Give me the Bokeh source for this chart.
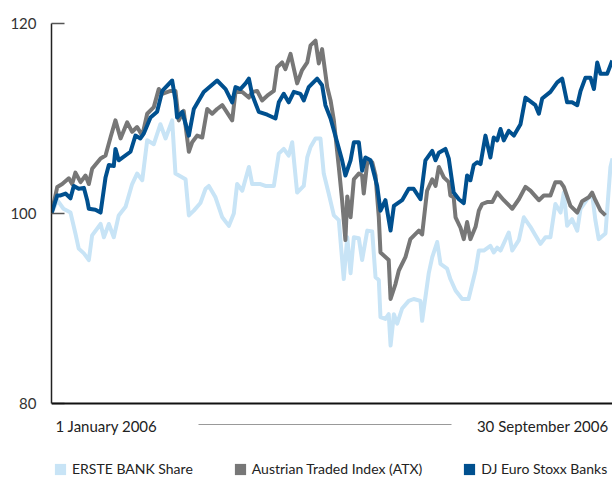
from bokeh.plotting import figure
from bokeh.models import (Range1d, FixedTicker, Label, BoxAnnotation, Legend, LegendItem, Span)
from bokeh.embed import file_html
from bokeh.resources import INLINE

# ---- data (index, 1 January 2006 = 100), x = calendar day since 1 Jan 2006 ----
erste_days = [0, 2.8, 5.8, 9.2, 11.6, 13.2, 15.7, 18.1, 19.7, 23.8, 25.4, 27.8, 30.2, 32.6, 35.9,
              39.1, 41.5, 44.0, 46.4, 49.6, 52.8, 55.3, 58.5, 60.1, 65.0, 66.6, 69.0, 72.2, 74.7,
              76.3, 79.5, 82.8, 86.0, 88.4, 90.0, 92.5, 95.7, 97.3, 101.3, 103.7, 107.8, 110.2,
              112.6, 115.0, 116.7, 119.1, 122.3, 124.0, 125.6, 128.0, 130.4, 132.0, 134.4, 136.9,
              139.3, 141.7, 143.4, 145.0, 146.6, 149.0, 150.6, 153.1, 155.5, 157.1, 158.7, 159.5,
              161.9, 163.5, 164.4, 166.0, 167.6, 170.0, 173.2, 175.6, 178.9, 179.7, 182.9, 184.6,
              187.0, 188.6, 191.8, 193.4, 195.9, 199.1, 202.2, 205.6, 207.2, 209.6, 212.8, 214.4,
              216.1, 217.7, 221.7, 223.4, 226.6, 229.0, 232.2, 234.6, 237.1, 239.5, 241.9, 244.3,
              246.8, 248.4, 250.0, 252.4, 254.9, 256.5, 259.7, 262.1, 263.7, 265.3, 268.6, 269.4,
              271.0, 272.0]
erste_values = [100.0, 101.4, 100.5, 100.1, 97.9, 96.3, 95.8, 95.1, 97.7, 98.9, 97.5, 98.9, 97.5,
                99.8, 100.7, 103.1, 104.2, 103.5, 107.7, 107.3, 109.4, 107.9, 109.8, 104.2, 103.6,
                99.8, 100.3, 101.1, 102.6, 102.9, 101.7, 99.6, 98.7, 100.0, 103.1, 102.4, 104.9,
                103.1, 103.1, 102.9, 102.9, 106.3, 106.8, 106.1, 107.5, 102.2, 102.9, 105.9, 107.0,
                107.9, 107.9, 104.2, 102.1, 99.8, 99.3, 93.1, 97.5, 93.7, 97.5, 97.4, 95.1, 98.2,
                98.1, 93.3, 93.0, 89.1, 88.9, 89.4, 86.1, 89.4, 88.4, 90.0, 90.8, 91.0, 90.8, 88.7,
                93.7, 95.4, 97.0, 94.7, 94.2, 93.1, 91.9, 91.0, 91.0, 94.0, 96.1, 96.1, 96.6, 95.9,
                96.4, 96.1, 98.0, 96.1, 97.2, 99.6, 98.6, 97.7, 96.8, 97.5, 97.5, 101.0, 100.1,
                102.2, 98.7, 99.4, 98.2, 100.5, 101.5, 102.1, 99.3, 97.3, 97.9, 100.3, 104.9, 105.8]

atx_days = [0, 2.8, 5.2, 8.4, 10.0, 11.6, 14.1, 16.5, 18.1, 19.7, 23.8, 26.2, 28.6, 31.0, 33.5,
            36.7, 39.1, 41.5, 44.0, 46.4, 49.6, 52.0, 53.7, 57.7, 60.1, 61.7, 64.1, 66.6, 68.2,
            70.6, 73.1, 75.5, 77.9, 80.3, 82.8, 87.6, 89.2, 92.5, 95.7, 97.3, 99.7, 102.1, 104.6,
            107.8, 109.4, 111.8, 113.4, 115.9, 119.1, 121.5, 124.0, 125.6, 128.0, 129.6, 131.2,
            133.7, 135.3, 136.9, 139.3, 140.9, 142.5, 143.4, 145.0, 146.6, 149.0, 150.6, 151.4,
            153.1, 155.5, 157.1, 158.7, 159.5, 163.5, 164.4, 166.8, 168.4, 171.6, 174.0, 178.1,
            179.7, 182.1, 184.6, 186.2, 187.8, 190.2, 192.6, 193.4, 195.0, 195.9, 198.3, 199.9,
            201.5, 203.1, 205.6, 207.2, 208.8, 211.2, 213.7, 216.1, 219.3, 223.4, 226.6, 229.8,
            232.2, 236.3, 238.7, 241.9, 244.3, 246.8, 248.4, 251.6, 254.9, 257.3, 260.5, 262.1,
            263.7, 266.2, 268.6]
atx_values = [100.0, 102.8, 103.1, 103.7, 103.1, 104.3, 103.3, 104.0, 103.1, 104.7, 105.8, 106.1,
              108.0, 109.8, 107.9, 109.6, 108.6, 109.1, 108.2, 110.5, 111.2, 113.1, 112.6, 112.9,
              112.9, 109.8, 110.8, 106.5, 107.5, 108.2, 108.0, 111.0, 110.5, 111.0, 111.4, 109.8,
              112.8, 112.8, 112.2, 112.8, 112.9, 111.9, 112.4, 112.9, 115.4, 115.9, 115.2, 116.8,
              113.7, 115.1, 115.9, 117.7, 118.2, 115.8, 117.3, 113.3, 111.9, 109.8, 104.9, 101.4,
              97.2, 101.8, 99.6, 103.6, 104.2, 104.0, 102.1, 105.4, 105.4, 104.0, 99.6, 95.9,
              95.1, 91.0, 92.6, 94.0, 95.4, 97.3, 98.2, 97.8, 102.4, 103.6, 102.9, 104.9, 103.8,
              103.3, 101.9, 101.7, 99.6, 98.5, 97.3, 99.1, 97.3, 98.6, 100.3, 101.0, 101.2, 101.2,
              102.2, 101.4, 100.5, 101.5, 102.8, 102.4, 101.4, 101.9, 101.9, 103.3, 103.3, 102.8,
              100.8, 100.1, 101.3, 101.7, 102.2, 101.4, 100.3, 99.8]

banks_days = [0, 2.8, 4.4, 6.8, 9.2, 10.8, 13.2, 15.7, 17.3, 18.1, 21.3, 23.8, 26.2, 27.8, 30.2,
              31.0, 32.6, 38.3, 40.7, 43.1, 44.7, 48.0, 51.2, 53.7, 58.5, 60.1, 60.9, 63.4, 66.6,
              69.0, 73.8, 80.3, 84.4, 87.6, 89.2, 91.6, 94.1, 95.7, 97.3, 100.5, 104.6, 108.6,
              110.2, 112.6, 115.0, 117.5, 120.7, 122.3, 124.7, 128.8, 131.2, 132.8, 135.3, 138.5,
              140.9, 142.5, 145.0, 146.6, 149.0, 150.6, 152.2, 154.7, 157.9, 159.5, 161.9, 164.4,
              166.0, 170.0, 173.2, 175.6, 178.9, 181.3, 184.6, 186.2, 187.8, 191.0, 192.6, 195.0,
              197.5, 199.9, 201.5, 203.1, 204.7, 206.4, 208.0, 210.4, 212.8, 214.4, 216.1, 217.7,
              219.3, 221.7, 224.2, 227.4, 229.8, 232.2, 234.6, 236.3, 237.9, 241.9, 245.2, 247.6,
              250.0, 252.4, 254.9, 256.5, 258.9, 261.3, 263.0, 264.6, 266.2, 269.4, 271.9]
banks_values = [100.0, 101.9, 101.9, 102.1, 101.6, 102.9, 102.6, 102.7, 101.4, 100.5, 100.4, 100.1,
                103.8, 105.1, 105.0, 106.8, 105.6, 106.5, 108.2, 107.9, 108.4, 110.1, 110.7, 112.9,
                114.0, 111.9, 110.1, 110.7, 108.2, 111.0, 112.8, 114.0, 113.1, 111.7, 113.3, 113.1,
                113.7, 114.2, 112.5, 110.7, 110.4, 110.0, 111.7, 112.6, 111.7, 112.8, 112.6, 111.9,
                113.3, 114.2, 113.5, 111.4, 110.0, 107.5, 105.6, 104.0, 105.6, 107.5, 107.5, 104.5,
                105.9, 105.6, 102.9, 100.3, 101.4, 98.2, 100.8, 101.4, 102.6, 102.6, 101.5, 105.6,
                106.6, 105.6, 106.4, 106.8, 105.8, 102.2, 101.5, 101.1, 104.0, 103.5, 105.1, 105.4,
                105.2, 108.2, 105.9, 108.0, 107.7, 108.9, 107.7, 108.7, 108.2, 109.4, 112.2, 111.8,
                111.4, 110.5, 112.1, 112.8, 113.8, 114.2, 111.7, 111.7, 111.4, 112.9, 114.3, 114.3,
                113.1, 115.9, 114.7, 114.7, 116.1]

y_ticks = [80, 100, 120]
y_min, y_max = 80, 120
series_names = ["ERSTE BANK Share", "Austrian Traded Index (ATX)", "DJ Euro Stoxx Banks"]
series_colors = ["#c8e4f6", "#777777", "#00508f"]
period_labels = ["1 January 2006", "30 September 2006"]

FONT = "Lato"
W, H = 612, 477
TOP = 23          # px above the 120 line
PLOT_H = 380      # px from 120 down to 80
# the frame extends to the bottom of the canvas so that the period labels and the
# legend (drawn as frame annotations) are not clipped; the y range is widened to match
y_bottom = y_min - (y_max - y_min) * (H - TOP - PLOT_H) / PLOT_H

p = figure(width=W, height=H, output_backend="svg", toolbar_location=None,
           x_range=Range1d(0, 272), y_range=Range1d(y_bottom, y_max),
           min_border_left=51, min_border_right=0, min_border_top=TOP, min_border_bottom=0,
           background_fill_color="white", border_fill_color="white")
p.outline_line_color = None
p.grid.visible = False

r1 = p.line(erste_days, erste_values, line_color=series_colors[0], line_width=4, line_join="round")
r2 = p.line(atx_days, atx_values, line_color=series_colors[1], line_width=4, line_join="round")
r3 = p.line(banks_days, banks_values, line_color=series_colors[2], line_width=4, line_join="round")

# y axis (line only between 80 and 120)
p.yaxis.bounds = (y_min, y_max)
p.yaxis.ticker = FixedTicker(ticks=y_ticks)
p.yaxis.minor_tick_line_color = None
p.yaxis.major_tick_in = 13
p.yaxis.major_tick_out = 0
p.yaxis.major_tick_line_color = "#555555"
p.yaxis.major_tick_line_width = 1.5
p.yaxis.axis_line_color = "#222222"
p.yaxis.axis_line_width = 1.5
p.yaxis.major_label_standoff = 15
p.yaxis.major_label_text_font = FONT
p.yaxis.major_label_text_font_size = "15px"
p.yaxis.major_label_text_color = "#333333"

# x axis: a bare line at 80
p.xaxis.visible = False
p.add_layout(Span(location=y_min, dimension="width", line_color="#111111", line_width=2))

# period labels below the axis (screen units from the frame's bottom-left)
p.add_layout(Label(x=4, y=52, x_units="screen", y_units="screen", text=period_labels[0],
                   text_font=FONT, text_font_size="15px", text_color="#222222",
                   text_baseline="middle", text_align="left"))
p.add_layout(Label(x=557, y=52, x_units="screen", y_units="screen", text=period_labels[1],
                   text_font=FONT, text_font_size="15px", text_color="#222222",
                   text_baseline="middle", text_align="right"))
p.add_layout(BoxAnnotation(left=147, right=400, bottom=52.5, top=53.5,
                           left_units="screen", right_units="screen",
                           bottom_units="screen", top_units="screen",
                           fill_color="#999999", fill_alpha=1, line_color=None))

# legend with square swatches (one-row NaN quads: nothing drawn in the plot itself)
nan = float("nan")
swatches = [p.quad(left=[nan], right=[nan], top=[nan], bottom=[nan], fill_color=c, line_color=None)
            for c in series_colors]
legend = Legend(items=[LegendItem(label=n, renderers=[s]) for n, s in zip(series_names, swatches)],
                orientation="horizontal", location=(2, 0),
                glyph_width=14, glyph_height=14, label_standoff=5, spacing=40,
                label_text_font=FONT, label_text_font_size="14px", label_text_color="#222222",
                border_line_color=None, background_fill_alpha=0, padding=0, margin=0)
p.add_layout(legend, "center")

open("out.html", "w").write(file_html(p, INLINE))
